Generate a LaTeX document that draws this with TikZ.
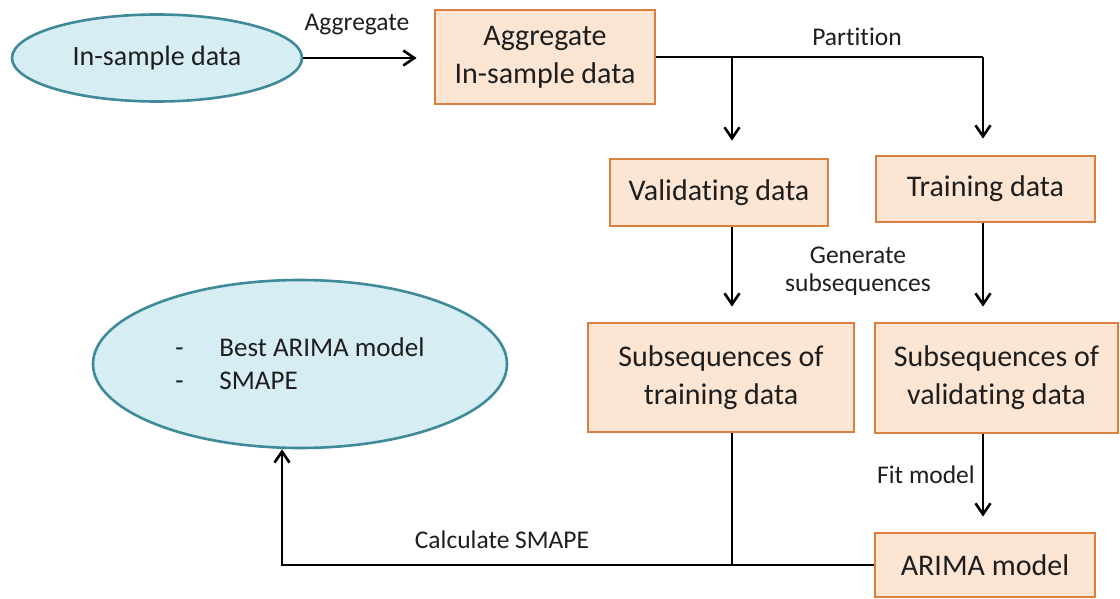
\documentclass[tikz,border=0pt]{standalone}
\usepackage{fontspec}
\setmainfont{Carlito}[Ligatures=NoCommon]
\usetikzlibrary{arrows.meta,shapes.geometric}
\definecolor{boxfill}{HTML}{FCE5D3}
\definecolor{boxline}{HTML}{DA7F40}
\definecolor{ovalfill}{HTML}{D6EDF3}
\definecolor{ovalline}{HTML}{3F8A99}
\definecolor{ink}{HTML}{1E1E1E}

\begin{document}
\begin{tikzpicture}[x=1pt,y=-1pt,
  stepbox/.style={draw=boxline, fill=boxfill, line width=2.8pt, inner sep=0pt,
    align=center, text=ink, font=\fontsize{30}{38}\selectfont},
  oval/.style={ellipse, draw=ovalline, fill=ovalfill, line width=2.6pt, inner sep=0pt, text=ink},
  flow/.style={line width=2.6pt, draw=black},
  arrowed/.style={-{Straight Barb[length=11pt,width=15pt,line width=2.6pt]}},
  lbl/.style={inner sep=0pt, text=ink, font=\fontsize{25.5}{28}\selectfont}
]
\useasboundingbox (0,0) rectangle (1120,599);

% input and result ovals
\node[oval, minimum width=290pt, minimum height=87pt, font=\fontsize{28}{34}\selectfont]
  (insample) at (157,58) {In-sample data};
\node[oval, minimum width=414pt, minimum height=168pt, align=left, font=\fontsize{27}{33}\selectfont]
  (best) at (300,364) {\makebox[44pt][l]{-}Best ARIMA model\\\makebox[44pt][l]{-}SMAPE};

% processing steps
\node[stepbox, minimum width=220pt, minimum height=94pt] (agg) at (545,57) {Aggregate\\In-sample data};
\node[stepbox, minimum width=218pt, minimum height=67pt] (val) at (719,192.5) {Validating data};
\node[stepbox, minimum width=219pt, minimum height=66pt] (train) at (985.5,189) {Training data};
\node[stepbox, minimum width=266pt, minimum height=109pt] (subtr) at (721,377.5) {Subsequences of\\training data};
\node[stepbox, minimum width=243pt, minimum height=110pt] (subval) at (996.5,378) {Subsequences of\\validating data};
\node[stepbox, minimum width=220pt, minimum height=64pt] (arima) at (985,565) {ARIMA model};

% branch points of the partition
\coordinate (pL) at (732,57);
\coordinate (pR) at (983,57);
\coordinate (turn) at (282,563);

% connectors
\draw[flow, arrowed] (insample.east) -- ([xshift=-17pt]agg.west |- insample.east);
\draw[flow] (agg.east) -- (pR);
\draw[flow, arrowed] (pR) -- ([yshift=16pt]train.north -| pR);
\draw[flow, arrowed] (pL) -- ([yshift=17pt]val.north -| pL);
\draw[flow, arrowed] (val.south -| pL) -- ([yshift=15pt]subtr.north -| pL);
\draw[flow, arrowed] (train.south -| pR) -- ([yshift=15pt]subval.north -| pR);
\draw[flow, arrowed] (subval.south -| pR) -- ([yshift=15pt]arima.north -| pR);
\draw[flow] (subtr.south -| pL) -- (arima.west -| pL);
\draw[flow, arrowed] (arima.west) -- (arima.west -| turn) -- (best.south -| turn);

% connector labels
\node[lbl] (lagg) at (357,25) {Aggregate};
\node[lbl] (lpart) at (857,37) {Partition};
\node[lbl, align=center] (lgen) at (858,271) {Generate\\subsequences};
\node[lbl] (lfit) at (926,475) {Fit model};
\node[lbl] (lcalc) at (502,540) {Calculate SMAPE};
\end{tikzpicture}
\end{document}
